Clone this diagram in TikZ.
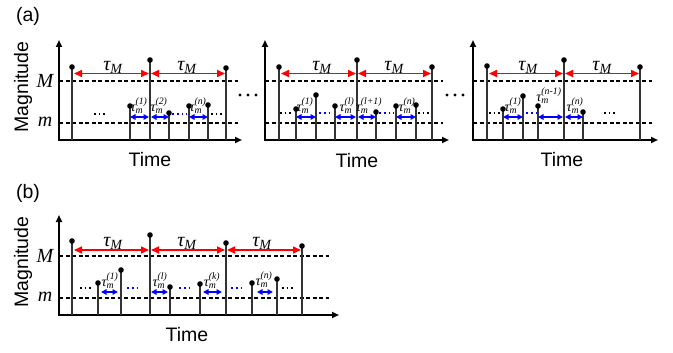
\documentclass[tikz,border=0pt]{standalone}
\usepackage{amsmath}
\usepackage{fontspec}
\setmainfont{Liberation Sans}
\newfontfamily\tms{Liberation Serif}
\usetikzlibrary{arrows.meta}
\newcommand\tauM{$\text{\tms\itshape τ}_{\text{\tms\itshape M}}$}
\newcommand\taum[1]{$\text{\tms\itshape τ}_{\text{\tms\itshape m}}^{\text{\tms\itshape (#1)}}$}
\newcommand\stemat[4]{%
  \coordinate (#1b) at (#2,#4);
  \coordinate (#1t) at (#2,#3);
  \draw[stemline] (#1b) -- (#1t);
  \fill[dotfill] (#1t) circle (2.8);}
\tikzset{
  axisline/.style={line width=1.9pt, -{Triangle[length=7pt,width=6pt]}},
  stemline/.style={line width=1.4pt, black!80},
  dotfill/.style={black},
  levelline/.style={line width=1.4pt, dash pattern=on 4pt off 2.5pt},
  redarr/.style={red, line width=1.6pt, {Triangle[length=8pt,width=7pt]}-{Triangle[length=8pt,width=7pt]}},
  bluearr/.style={blue, line width=1.4pt, {Triangle[length=5.5pt,width=5.5pt]}-{Triangle[length=5.5pt,width=5.5pt]}},
  bluedots/.style={blue, line width=1.8pt, dash pattern=on 1.8pt off 3pt},
  blackdots/.style={black, line width=1.5pt, dash pattern=on 1.5pt off 3pt},
  bigdot/.style={circle, fill=black, inner sep=0pt, minimum size=3.4pt},
  taubig/.style={font=\fontsize{20}{20}\selectfont, inner sep=0pt},
  tausmall/.style={font=\fontsize{14}{14}\selectfont, inner sep=0pt},
  lbl/.style={font=\fontsize{19.5}{19.5}\selectfont, inner sep=0pt},
  lvl/.style={font=\fontsize{20}{20}\selectfont\tms\itshape, inner sep=0pt},
}
\begin{document}
\begin{tikzpicture}[x=1pt,y=-1pt]
\useasboundingbox (0,0) rectangle (673,353);
%================ panel (a) ==================
\node[lbl] (alab) at (28,16) {(a)};
% ---------- a1
\coordinate (a1o) at (59,140);
\coordinate (a1y) at (59,40);
\coordinate (a1x) at (242,140);
\coordinate (a1Ml) at (59,81);  \coordinate (a1Mr) at (238,81);
\coordinate (a1ml) at (59,123); \coordinate (a1mr) at (238,123);
\draw[levelline] (a1Ml) -- (a1Mr);
\draw[levelline] (a1ml) -- (a1mr);
\draw[axisline] ([yshift=0.9pt]a1o) -- (a1y);
\draw[axisline] ([xshift=-0.9pt]a1o) -- (a1x);
\node[lbl, rotate=90] (a1mag) at (23,87) {Magnitude};
\node[lvl] (a1M) at (45,81) {M};
\node[lvl] (a1m) at (45,122) {m};
\node[lbl] (a1time) at (150,160) {Time};
\stemat{a1p}{72}{67}{140}
\stemat{a1q}{150}{60}{140}
\stemat{a1r}{226}{68}{140}
\stemat{a1s}{130}{106}{140}
\stemat{a1t}{169}{113}{140}
\stemat{a1u}{189}{106}{140}
\stemat{a1v}{208}{105}{140}
\coordinate (a1red) at (0,73.5);
\coordinate (a1blu) at (0,117);
\draw[redarr] ([xshift=2pt]a1pb |- a1red) -- ([xshift=-1pt]a1qb |- a1red);
\draw[redarr] ([xshift=1pt]a1qb |- a1red) -- ([xshift=-1pt]a1rb |- a1red);
\draw[bluearr] (a1sb |- a1blu) -- ([xshift=-1pt]a1qb |- a1blu);
\draw[bluearr] ([xshift=1pt]a1qb |- a1blu) -- (a1tb |- a1blu);
\draw[bluearr] (a1ub |- a1blu) -- (a1vb |- a1blu);
\coordinate (a1d1) at (172,114); \coordinate (a1d2) at (187,114);
\draw[bluedots] (a1d1) -- (a1d2);
\coordinate (a1k1) at (94,114); \coordinate (a1k2) at (107,114);
\draw[blackdots] (a1k1) -- (a1k2);
\coordinate (a1k3) at (211,114); \coordinate (a1k4) at (224,114);
\draw[blackdots] (a1k3) -- (a1k4);
\node[taubig] (a1T1) at (113,67) {\tauM};
\node[taubig] (a1T2) at (187,67) {\tauM};
\node[tausmall] (a1l1) at (139,106) {\taum{1}};
\node[tausmall] (a1l2) at (159,106) {\taum{2}};
\node[tausmall] (a1l3) at (198,106) {\taum{n}};
% between-panel dots
\node[bigdot] (g1) at (240,95) {};
\node[bigdot] (g2) at (248,95) {};
\node[bigdot] (g3) at (256,95) {};
\node[bigdot] (g4) at (447,95) {};
\node[bigdot] (g5) at (455,95) {};
\node[bigdot] (g6) at (463,95) {};
% ---------- a2
\coordinate (a2o) at (265,140);
\coordinate (a2y) at (265,40);
\coordinate (a2x) at (449,140);
\coordinate (a2Ml) at (265,81);  \coordinate (a2Mr) at (443,81);
\coordinate (a2ml) at (265,123); \coordinate (a2mr) at (443,123);
\draw[levelline] (a2Ml) -- (a2Mr);
\draw[levelline] (a2ml) -- (a2mr);
\draw[axisline] ([yshift=0.9pt]a2o) -- (a2y);
\draw[axisline] ([xshift=-0.9pt]a2o) -- (a2x);
\node[lbl] (a2time) at (357,161) {Time};
\stemat{a2p}{279}{67}{140}
\stemat{a2q}{357}{60}{140}
\stemat{a2r}{432}{67}{140}
\stemat{a2s}{296}{109}{140}
\stemat{a2t}{316}{95}{140}
\stemat{a2u}{335}{106}{140}
\stemat{a2v}{376}{112}{140}
\stemat{a2w}{396}{106}{140}
\stemat{a2z}{416}{105}{140}
\coordinate (a2red) at (0,73.5);
\coordinate (a2blu) at (0,117);
\draw[redarr] ([xshift=2pt]a2pb |- a2red) -- ([xshift=-1pt]a2qb |- a2red);
\draw[redarr] ([xshift=1pt]a2qb |- a2red) -- ([xshift=-1pt]a2rb |- a2red);
\draw[bluearr] (a2sb |- a2blu) -- (a2tb |- a2blu);
\draw[bluearr] (a2ub |- a2blu) -- ([xshift=-1pt]a2qb |- a2blu);
\draw[bluearr] ([xshift=1pt]a2qb |- a2blu) -- (a2vb |- a2blu);
\draw[bluearr] (a2wb |- a2blu) -- (a2zb |- a2blu);
\coordinate (a2d1) at (319,113); \coordinate (a2d2) at (333,113);
\draw[bluedots] (a2d1) -- (a2d2);
\coordinate (a2d3) at (379,113); \coordinate (a2d4) at (394,113);
\draw[bluedots] (a2d3) -- (a2d4);
\coordinate (a2k1) at (280,113); \coordinate (a2k2) at (293,113);
\draw[blackdots] (a2k1) -- (a2k2);
\coordinate (a2k3) at (418,113); \coordinate (a2k4) at (431,113);
\draw[blackdots] (a2k3) -- (a2k4);
\node[taubig] (a2T1) at (322,67) {\tauM};
\node[taubig] (a2T2) at (394,67) {\tauM};
\node[tausmall] (a2l1) at (305,106) {\taum{1}};
\node[tausmall] (a2l2) at (347,106) {\taum{l}};
\node[tausmall] (a2l3) at (369,106) {\taum{l+1}};
\node[tausmall] (a2l4) at (407,106) {\taum{n}};
% ---------- a3
\coordinate (a3o) at (473,140);
\coordinate (a3y) at (473,40);
\coordinate (a3x) at (658,140);
\coordinate (a3Ml) at (473,81);  \coordinate (a3Mr) at (652,81);
\coordinate (a3ml) at (473,123); \coordinate (a3mr) at (652,123);
\draw[levelline] (a3Ml) -- (a3Mr);
\draw[levelline] (a3ml) -- (a3mr);
\draw[axisline] ([yshift=0.9pt]a3o) -- (a3y);
\draw[axisline] ([xshift=-0.9pt]a3o) -- (a3x);
\node[lbl] (a3time) at (562,160) {Time};
\stemat{a3p}{487}{66}{140}
\stemat{a3q}{564}{60}{140}
\stemat{a3r}{640}{67}{140}
\stemat{a3s}{503}{109}{140}
\stemat{a3t}{523}{96}{140}
\stemat{a3u}{538}{106}{140}
\stemat{a3v}{583}{112}{140}
\coordinate (a3red) at (0,73.5);
\coordinate (a3blu) at (0,117);
\draw[redarr] ([xshift=2pt]a3pb |- a3red) -- ([xshift=-1pt]a3qb |- a3red);
\draw[redarr] ([xshift=1pt]a3qb |- a3red) -- ([xshift=-1pt]a3rb |- a3red);
\draw[bluearr] (a3sb |- a3blu) -- (a3tb |- a3blu);
\draw[bluearr] (a3ub |- a3blu) -- ([xshift=-1pt]a3qb |- a3blu);
\draw[bluearr] ([xshift=1pt]a3qb |- a3blu) -- (a3vb |- a3blu);
\coordinate (a3d1) at (526,113); \coordinate (a3d2) at (537,113);
\draw[bluedots] (a3d1) -- (a3d2);
\coordinate (a3k1) at (489,113); \coordinate (a3k2) at (501,113);
\draw[blackdots] (a3k1) -- (a3k2);
\coordinate (a3k3) at (604,113); \coordinate (a3k4) at (617,113);
\draw[blackdots] (a3k3) -- (a3k4);
\node[taubig] (a3T1) at (528,67) {\tauM};
\node[taubig] (a3T2) at (602,67) {\tauM};
\node[tausmall] (a3l1) at (513,106) {\taum{1}};
\node[tausmall] (a3l2) at (549,96) {\taum{n-1}};
\node[tausmall] (a3l3) at (575,106) {\taum{n}};
%================ panel (b) ==================
\node[lbl] (blab) at (28,193) {(b)};
\coordinate (bo) at (59,315);
\coordinate (by) at (59,215);
\coordinate (bx) at (339,315);
\coordinate (bMl) at (59,256);  \coordinate (bMr) at (329,256);
\coordinate (bml) at (59,298); \coordinate (bmr) at (329,298);
\draw[levelline] (bMl) -- (bMr);
\draw[levelline] (bml) -- (bmr);
\draw[axisline] ([yshift=0.9pt]bo) -- (by);
\draw[axisline] ([xshift=-0.9pt]bo) -- (bx);
\node[lbl, rotate=90] (bmag) at (23,262) {Magnitude};
\node[lvl] (bM) at (45,256) {M};
\node[lvl] (bm) at (45,297) {m};
\node[lbl] (btime) at (187,335) {Time};
\stemat{bp}{72}{241}{315}
\stemat{bq}{150}{235}{315}
\stemat{br}{226}{243}{315}
\stemat{bs}{302}{246}{315}
\stemat{bt}{98}{283}{315}
\stemat{bu}{121}{270}{315}
\stemat{bv}{170}{287}{315}
\stemat{bw}{200}{284}{315}
\stemat{bz}{252}{283}{315}
\stemat{bk}{277}{279}{315}
\coordinate (bred) at (0,250);
\draw[redarr] ([xshift=2pt]bpb |- bred) -- ([xshift=-1pt]bqb |- bred);
\draw[redarr] ([xshift=1pt]bqb |- bred) -- ([xshift=-1pt]brb |- bred);
\draw[redarr] ([xshift=1pt]brb |- bred) -- ([xshift=-1pt]bsb |- bred);
\coordinate (bb1) at (101,292); \coordinate (bb2) at (118,292);
\coordinate (bb3) at (151,292); \coordinate (bb4) at (168,292);
\coordinate (bb5) at (203,292); \coordinate (bb6) at (222,292);
\coordinate (bb7) at (257,292); \coordinate (bb8) at (273,292);
\draw[bluearr] (bb1) -- (bb2);
\draw[bluearr] (bb3) -- (bb4);
\draw[bluearr] (bb5) -- (bb6);
\draw[bluearr] (bb7) -- (bb8);
\coordinate (bd1) at (127,288); \coordinate (bd2) at (140,288);
\coordinate (bd3) at (179,288); \coordinate (bd4) at (192,288);
\coordinate (bd5) at (231,288); \coordinate (bd6) at (244,288);
\draw[bluedots] (bd1) -- (bd2);
\draw[bluedots] (bd3) -- (bd4);
\draw[bluedots] (bd5) -- (bd6);
\coordinate (bk1) at (80,288); \coordinate (bk2) at (92,288);
\coordinate (bk3) at (282,288); \coordinate (bk4) at (295,288);
\draw[blackdots] (bk1) -- (bk2);
\draw[blackdots] (bk3) -- (bk4);
\node[taubig] (bT1) at (113,243) {\tauM};
\node[taubig] (bT2) at (187,243) {\tauM};
\node[taubig] (bT3) at (262,243) {\tauM};
\node[tausmall] (bl1) at (110,281) {\taum{1}};
\node[tausmall] (bl2) at (160,281) {\taum{l}};
\node[tausmall] (bl3) at (212,281) {\taum{k}};
\node[tausmall] (bl4) at (264,280) {\taum{n}};
\end{tikzpicture}
\end{document}
